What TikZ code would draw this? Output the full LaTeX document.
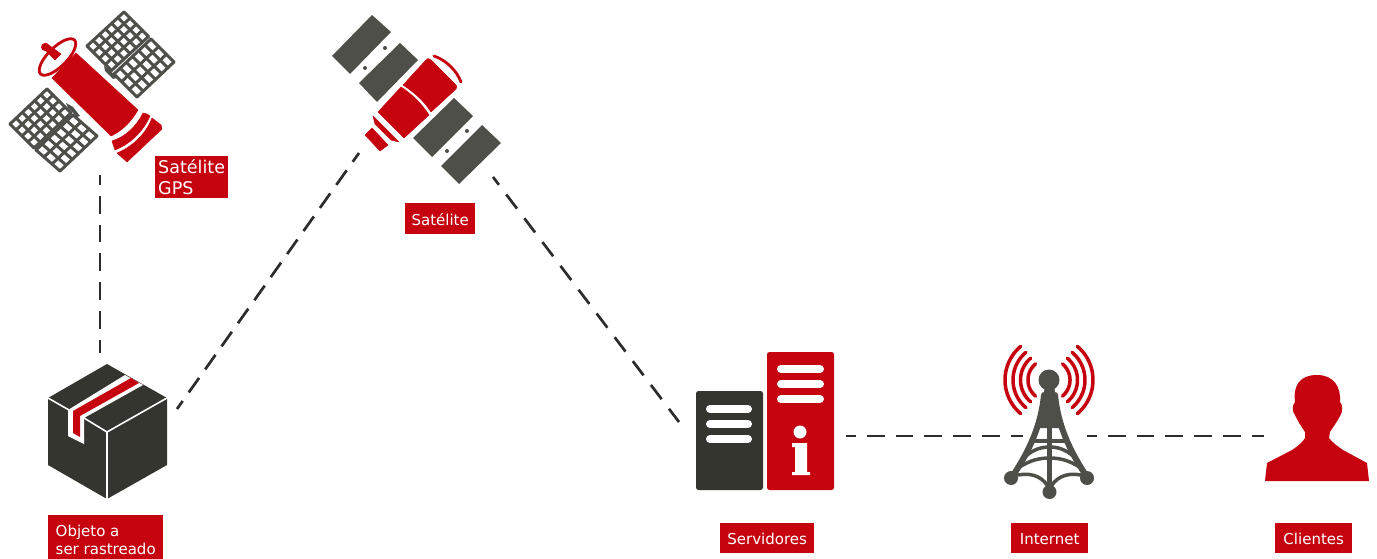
\documentclass[tikz,border=0pt]{standalone}
\usepackage{fontspec}
\setmainfont{DejaVu Sans}
\definecolor{brand}{HTML}{C6040F}
\definecolor{boxdark}{HTML}{35352F}
\definecolor{panelgray}{HTML}{4F4F49}
\definecolor{dashink}{HTML}{2E2C2A}
\tikzset{
  link/.style={draw=dashink,line width=2.7pt,dash pattern=on 17.8pt off 11pt,dash phase=8pt},
  tag/.style={fill=brand,text=white,inner sep=0pt,anchor=north west,font=\fontsize{15}{18}\selectfont},
  oneline/.style={text height=13pt,text depth=1pt},
  gridline/.style={draw=panelgray,line width=3pt,line cap=round},
  redfill/.style={fill=brand,draw=brand,line width=.5pt,line join=round},
  slabfill/.style={fill=panelgray},
  whitebar/.style={draw=white,line width=8pt,line cap=round},
  wave/.style={draw=brand,line width=3.5pt,line cap=round},
  mast/.style={draw=panelgray,line cap=round}
}
% origin ox oy, long vector ux uy, short vector vx vy, cells n m
\newcommand{\gridpanel}[8]{%
  \foreach \i in {0,...,#7}{\draw[gridline] ({#1+(#3)*\i/#7},{#2+(#4)*\i/#7}) -- ++({#5},{#6});}
  \foreach \j in {0,...,#8}{\draw[gridline] ({#1+(#5)*\j/#8},{#2+(#6)*\j/#8}) -- ++({#3},{#4});}
}
\newcommand{\towerwave}[3]{\draw[wave] plot[domain=#2:#3,samples=30] ({1049+#1*cos(\x)},{380+#1*sin(\x)});}
\begin{document}
\begin{tikzpicture}[x=1pt,y=-1pt]
\useasboundingbox (0,0) rectangle (1377,559);
\fill[white] (0,0) rectangle (1377,559);

% connector ends
\coordinate (gpsEnd) at (100,175);
\coordinate (boxTop) at (100,353);
\coordinate (boxRight) at (177,409);
\coordinate (satLeft) at (359,153);
\coordinate (satRight) at (493,177);
\coordinate (servTop) at (679,422);
\coordinate (servRight) at (846,436);
\coordinate (towerLeft) at (1023,436);
\coordinate (towerRight) at (1087,436);
\coordinate (clientLeft) at (1264,436);

\draw[link] (gpsEnd) -- (boxTop);
\draw[link,dash pattern=on 17.8pt off 10.5pt] (boxRight) -- (satLeft);
\draw[link,dash pattern=on 17.8pt off 12.1pt] (satRight) -- (servTop);
\draw[link] (servRight) -- (towerLeft);
\draw[link] (towerRight) -- (clientLeft);

% GPS satellite
\gridpanel{124}{12}{-37}{34}{24.5}{24.5}{6}{4}
\gridpanel{151}{39}{-37}{35}{23}{23}{6}{3}
\gridpanel{47}{89}{-37}{35}{24}{24}{6}{4}
\gridpanel{73}{115}{-37}{35}{24}{21}{6}{3}
\fill[panelgray] (104,66) -- (110,70) -- (117,78) -- (113,79) -- (105,71) -- cycle;
\fill[panelgray] (66,103) -- (73,107) -- (80,116) -- (77,117) -- (68,108) -- cycle;
\filldraw[redfill] (52,78) -- (76,53) -- (138,110) .. controls (131,122) and (122,131) .. (111,136) -- cycle;
\filldraw[redfill] (112,141) .. controls (125,137) and (136,127) .. (143,113) -- (147,114) -- (150,116) .. controls (143,132) and (130,144) .. (115,150) -- cycle;
\filldraw[redfill] (117,153) .. controls (132,147) and (146,134) .. (152,118) -- (161,125) -- (162,129) -- (127,162) -- cycle;
\draw[brand,line width=2.8pt] (57.5,57) ellipse [x radius=24,y radius=9.5,rotate=45];
\filldraw[redfill] (42,47) -- (46,43) -- (61,54) -- (55,60) -- cycle;
\fill[brand] (45,47) circle (4);

% communication satellite
\fill[slabfill] (372,15) -- (391,32) -- (350,74) -- (332,56) -- cycle;
\fill[slabfill] (400,43) -- (418,60) -- (377,102) -- (359,83) -- cycle;
\fill[slabfill] (454,98) -- (473,116) -- (432,157) -- (413,138) -- cycle;
\fill[slabfill] (482,125) -- (501,143) -- (459,184) -- (441,166) -- cycle;
\fill[panelgray] (385,48) circle (2) (365,68) circle (2) (467,131) circle (2) (447,151) circle (2);
\filldraw[redfill] (426,60) .. controls (427,58) and (429,58) .. (431,60) -- (456,85) .. controls (457,86) and (457,88) .. (456,89) -- (431,112) .. controls (424,101) and (415,93) .. (403,85) -- cycle;
\filldraw[redfill] (401,87) .. controls (412,94) and (422,104) .. (429,115) -- (404,138) -- (378,112) -- cycle;
\draw[brand,line width=2.8pt,line cap=round] (434,56) .. controls (446,60) and (457,71) .. (461,82);
\filldraw[redfill] (373,116) -- (399,142) -- (391,140) -- (375,124) -- cycle;
\filldraw[redfill] (372,128) -- (388,145) -- (380,151) -- (365,135) -- cycle;

% parcel
\fill[boxdark] (107,364) -- (167,398) -- (167,465) -- (107,499) -- (48,465) -- (48,398) -- cycle;
\fill[white] (125,375) -- (143,385) -- (84,418) -- (84,444) -- (68,436) -- (68,410) -- cycle;
\fill[brand] (131,378) -- (139,383) -- (80,416) -- (80,437) -- (73,433) -- (73,411) -- cycle;
\draw[white,line width=1.6pt] (48,398) -- (69,410);
\draw[white,line width=1.6pt] (84,418) -- (107,432) -- (167,398);
\draw[white,line width=1.6pt] (107,432) -- (107,499);

% servers
\fill[boxdark,rounded corners=2.5pt] (696,391) rectangle (763,490);
\fill[brand,rounded corners=2.5pt] (767,352) rectangle (834,490);
\draw[whitebar] (710,409) -- (748,409);
\draw[whitebar] (710,424) -- (748,424);
\draw[whitebar] (710,439) -- (748,439);
\draw[whitebar] (781,369) -- (820,369);
\draw[whitebar] (781,384) -- (820,384);
\draw[whitebar] (781,399) -- (820,399);
\fill[white] (800,432) circle (6.5);
\fill[white] (792,443) -- (807,443) -- (807,472) -- (810,472) -- (810,475) -- (792,475) -- (792,472) -- (795,472) -- (795,447) -- (792,447) -- cycle;

% tower
\foreach \r in {21,28.5,36,44}{\towerwave{\r}{130}{230}\towerwave{\r}{-50}{50}}
\fill[panelgray] (1049,380) circle (10.5);
\fill[panelgray] (1045,385) -- (1054,385) -- (1060,428) -- (1039,428) -- cycle;
\draw[mast,line width=6pt] (1044,395) .. controls (1041,425) and (1030,450) .. (1012,477);
\draw[mast,line width=6pt] (1055,395) .. controls (1058,425) and (1069,450) .. (1087,477);
\draw[mast,line width=4.5pt] (1049.5,400) -- (1049.5,492);
\draw[mast,line width=4pt] (1035,441) -- (1064,441);
\draw[mast,line width=3.5pt] (1026,456) .. controls (1034,449) and (1042,447) .. (1049.5,447) .. controls (1057,447) and (1065,449) .. (1073,456);
\draw[mast,line width=3.5pt] (1018,468) .. controls (1030,460) and (1040,458) .. (1049.5,458) .. controls (1059,458) and (1069,460) .. (1081,468);
\draw[mast,line width=3.5pt] (1018,475) .. controls (1033,472) and (1045,478) .. (1049.5,490) .. controls (1054,478) and (1066,472) .. (1081,475);
\fill[panelgray] (1011,478) circle (7) (1087,478) circle (7) (1049.5,492) circle (7);

% person
\fill[brand] (1265,481) -- (1267,463) -- (1292,450) .. controls (1298,446) and (1303,442) .. (1305,438) -- (1305,432) .. controls (1301,426) and (1297,420) .. (1295,415) .. controls (1292,412) and (1292,405) .. (1295,402) .. controls (1293,385) and (1300,375) .. (1317,375) .. controls (1334,375) and (1341,387) .. (1340,402) .. controls (1343,405) and (1343,412) .. (1340,416) .. controls (1337,422) and (1333,427) .. (1330,432) -- (1329,438) .. controls (1332,442) and (1337,446) .. (1343,450) -- (1367,463) -- (1369,481) -- cycle;

% labels
\node[tag,minimum width=73pt,minimum height=42pt,text width=67pt,inner xsep=3pt,font=\fontsize{17.5}{20.5}\selectfont,align=left] (gpsTag) at (155,156) {Satélite\\GPS};
\node[tag,minimum width=70pt,minimum height=31pt,align=center,text height=14.5pt,text depth=0pt] (satTag) at (405,203) {Satélite};
\node[tag,minimum width=115pt,minimum height=44pt,align=left] (boxTag) at (48,515) {\rule{0pt}{17pt}Objeto a\\ser rastreado};
\node[tag,oneline,minimum width=94pt,minimum height=30pt,align=center] (servTag) at (720,523) {Servidores};
\node[tag,oneline,minimum width=77pt,minimum height=30pt,align=center] (netTag) at (1011,523) {Internet};
\node[tag,oneline,minimum width=77pt,minimum height=30pt,align=center] (clientTag) at (1275,523) {Clientes};
\end{tikzpicture}
\end{document}
